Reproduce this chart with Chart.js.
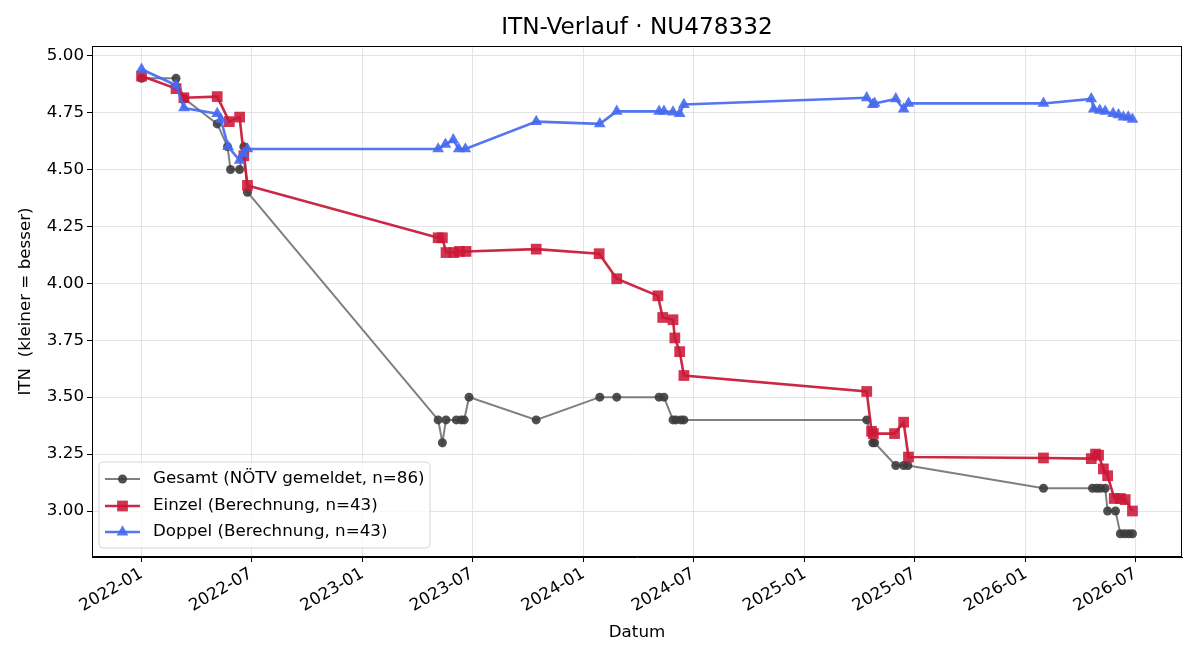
<!DOCTYPE html>
<html><head><meta charset="utf-8">
<script src="https://cdn.jsdelivr.net/npm/chart.js@4.4.1/dist/chart.umd.min.js"></script>
<style>html,body{margin:0;padding:0;background:#fff}#wrap{width:1200px;height:660px}</style>
</head><body><div id="wrap"><canvas id="c" width="1200" height="660"></canvas></div>
<script>
const chartTitle = 'ITN-Verlauf · NU478332';
const xAxisTitle = 'Datum';
const yAxisTitle = 'ITN  (kleiner = besser)';
const seriesLabels = ['Gesamt (NÖTV gemeldet, n=86)', 'Einzel (Berechnung, n=43)', 'Doppel (Berechnung, n=43)'];

const gesamtDates = ['2022-01-01','2022-02-27','2022-03-13','2022-05-06','2022-05-23','2022-05-28','2022-06-12','2022-06-19','2022-06-25',
  '2023-05-06','2023-05-13','2023-05-19','2023-06-05','2023-06-13','2023-06-18','2023-06-26','2023-10-15',
  '2024-01-28','2024-02-25','2024-05-05','2024-05-13','2024-05-28','2024-06-02','2024-06-10','2024-06-15',
  '2025-04-13','2025-04-23','2025-04-26','2025-05-31','2025-06-13','2025-06-20',
  '2026-01-30','2026-04-21','2026-04-28','2026-05-04','2026-05-12','2026-05-16','2026-05-29','2026-06-06','2026-06-13','2026-06-20','2026-06-26'];
const gesamtValues = [4.90,4.90,4.81,4.70,4.60,4.50,4.50,4.60,4.40,
  3.40,3.30,3.40,3.40,3.40,3.40,3.50,3.40,
  3.50,3.50,3.50,3.50,3.40,3.40,3.40,3.40,
  3.40,3.30,3.30,3.20,3.20,3.20,
  3.10,3.10,3.10,3.10,3.10,3.00,3.00,2.90,2.90,2.90,2.90];

const einzelDates = ['2022-01-01','2022-02-27','2022-03-12','2022-05-06','2022-05-26','2022-06-12','2022-06-19','2022-06-25',
  '2023-05-06','2023-05-13','2023-05-19','2023-06-01','2023-06-10','2023-06-21','2023-10-15',
  '2024-01-27','2024-02-25','2024-05-03','2024-05-11','2024-05-28','2024-05-31','2024-06-08','2024-06-15',
  '2025-04-13','2025-04-21','2025-04-24','2025-05-29','2025-06-13','2025-06-21',
  '2026-01-30','2026-04-19','2026-04-26','2026-05-01','2026-05-09','2026-05-16','2026-05-27','2026-06-06','2026-06-14','2026-06-26'];
const einzelValues = [4.91,4.855,4.815,4.82,4.71,4.73,4.56,4.43,
  4.20,4.20,4.135,4.135,4.14,4.14,4.15,
  4.13,4.02,3.945,3.85,3.84,3.76,3.70,3.595,
  3.525,3.35,3.34,3.34,3.39,3.237,
  3.233,3.23,3.25,3.245,3.185,3.155,3.055,3.055,3.05,3.00];

const doppelDates = ['2022-01-01','2022-02-27','2022-03-12','2022-05-06','2022-05-12','2022-05-24','2022-06-12','2022-06-18','2022-06-25',
  '2023-05-06','2023-05-18','2023-05-31','2023-06-09','2023-06-20','2023-10-15',
  '2024-01-28','2024-02-25','2024-05-05','2024-05-13','2024-05-28','2024-06-08','2024-06-15',
  '2025-04-13','2025-04-23','2025-04-26','2025-05-31','2025-06-13','2025-06-21',
  '2026-01-30','2026-04-19','2026-04-23','2026-05-03','2026-05-12','2026-05-25','2026-06-03','2026-06-11','2026-06-19','2026-06-26'];
const doppelValues = [4.94,4.87,4.77,4.745,4.72,4.60,4.54,4.57,4.59,
  4.59,4.61,4.63,4.59,4.59,4.71,
  4.70,4.755,4.755,4.755,4.752,4.745,4.785,
  4.815,4.785,4.79,4.81,4.765,4.79,
  4.79,4.81,4.765,4.76,4.755,4.745,4.74,4.73,4.73,4.72];

const xTickLabels = ['2022-01','2022-07','2023-01','2023-07','2024-01','2024-07','2025-01','2025-07','2026-01','2026-07'];
const yTickValues = [3.00,3.25,3.50,3.75,4.00,4.25,4.50,4.75,5.00];

const colors = {
  gesamtLine: 'rgba(120,120,120,0.95)', gesamtPoint: 'rgba(60,60,60,0.9)',
  einzel: 'rgba(200,22,52,0.92)', einzelPoint: 'rgba(204,24,56,0.88)',
  doppel: 'rgba(70,105,240,0.92)', doppelPoint: 'rgba(70,105,240,0.9)'
};

function toMs(s){ const p = s.split('-').map(Number); return Date.UTC(p[0], p[1]-1, p[2] || 1); }
function pts(dates, vals){ return dates.map((d,i)=>({x: toMs(d), y: vals[i]})); }

const allX = [].concat(gesamtDates, einzelDates, doppelDates).map(toMs);
const allY = [].concat(gesamtValues, einzelValues, doppelValues);
const xMinD = Math.min(...allX), xMaxD = Math.max(...allX);
const yMinD = Math.min(...allY), yMaxD = Math.max(...allY);
const xPad = (xMaxD - xMinD) * 0.05, yPad = (yMaxD - yMinD) * 0.05;

const FONT = 'DejaVu Sans';
const FS = 16.7;

const legendPlugin = {
  id: 'mplLegend',
  afterDraw(chart) {
    const ctx = chart.ctx;
    const ca = chart.chartArea;
    ctx.save();
    ctx.strokeStyle = '#000'; ctx.lineWidth = 1;
    ctx.strokeRect(Math.round(ca.left)+0.5, Math.round(ca.top)+0.5, Math.round(ca.right-ca.left)-1, Math.round(ca.bottom-ca.top)-1);
    const bx = 99, by = 462, bw = 331, bh = 86, r = 4;
    ctx.beginPath();
    ctx.moveTo(bx+r, by); ctx.lineTo(bx+bw-r, by); ctx.quadraticCurveTo(bx+bw, by, bx+bw, by+r);
    ctx.lineTo(bx+bw, by+bh-r); ctx.quadraticCurveTo(bx+bw, by+bh, bx+bw-r, by+bh);
    ctx.lineTo(bx+r, by+bh); ctx.quadraticCurveTo(bx, by+bh, bx, by+bh-r);
    ctx.lineTo(bx, by+r); ctx.quadraticCurveTo(bx, by, bx+r, by);
    ctx.closePath();
    ctx.fillStyle = 'rgba(255,255,255,0.8)'; ctx.fill();
    ctx.strokeStyle = '#d6d6d6'; ctx.lineWidth = 1; ctx.stroke();
    const rows = [479, 506, 532];
    chart.data.datasets.forEach((ds, i) => {
      const y = rows[i];
      ctx.beginPath(); ctx.moveTo(105, y); ctx.lineTo(140, y);
      ctx.strokeStyle = ds.borderColor; ctx.lineWidth = ds.borderWidth; ctx.stroke();
      ctx.fillStyle = ds.pointBackgroundColor;
      ctx.beginPath();
      const cx = 122.5;
      if (ds.pointStyle === 'circle') { ctx.arc(cx, y, ds.pointRadius, 0, Math.PI*2); }
      else if (ds.pointStyle === 'rect') { const s = ds.pointRadius*Math.SQRT1_2; ctx.rect(cx-s, y-s, 2*s, 2*s); }
      else { const rr = ds.pointRadius; for (let k=0;k<3;k++){ const a = k*2*Math.PI/3; const px = cx+Math.sin(a)*rr, py = y-Math.cos(a)*rr; k?ctx.lineTo(px,py):ctx.moveTo(px,py);} ctx.closePath(); }
      ctx.fill();
      ctx.fillStyle = '#000'; ctx.font = FS + 'px "' + FONT + '"'; ctx.textBaseline = 'middle'; ctx.textAlign = 'left';
      ctx.fillText(ds.label, 153, y);
    });
    ctx.restore();
  }
};

new Chart(document.getElementById('c'), {
  type: 'line',
  data: {
    datasets: [
      { label: seriesLabels[0], data: pts(gesamtDates, gesamtValues), borderColor: colors.gesamtLine, borderWidth: 2,
        pointStyle: 'circle', pointRadius: 4.5, pointBackgroundColor: colors.gesamtPoint, pointBorderWidth: 0, order: 3 },
      { label: seriesLabels[1], data: pts(einzelDates, einzelValues), borderColor: colors.einzel, borderWidth: 2.6,
        pointStyle: 'rect', pointRadius: 7.6, pointBackgroundColor: colors.einzelPoint, pointBorderWidth: 0, order: 2 },
      { label: seriesLabels[2], data: pts(doppelDates, doppelValues), borderColor: colors.doppel, borderWidth: 2.6,
        pointStyle: 'triangle', pointRadius: 6.8, pointBackgroundColor: colors.doppelPoint, pointBorderWidth: 0, order: 1 }
    ]
  },
  options: {
    responsive: false, animation: false, devicePixelRatio: 1,
    layout: { padding: { left: 0, right: 18, top: 0, bottom: 0 } },
    elements: { line: { tension: 0, fill: false } },
    plugins: {
      legend: { display: false }, tooltip: { enabled: false },
      title: { display: true, fullSize: false, text: chartTitle, color: '#000', font: { family: FONT, size: 23.2, weight: 'normal', lineHeight: 1.2 }, padding: { top: 14.1, bottom: 4.1 } }
    },
    scales: {
      x: {
        type: 'linear', min: xMinD - xPad, max: xMaxD + xPad,
        afterFit(s) { s.height = 103; },
        afterBuildTicks(s) { s.ticks = xTickLabels.map(l => ({ value: toMs(l) })); },
        ticks: {
          color: '#000', font: { family: FONT, size: FS }, minRotation: 30, maxRotation: 30, padding: 2, autoSkip: false,
          callback(v) { const d = new Date(v); return d.getUTCFullYear() + '-' + String(d.getUTCMonth()+1).padStart(2,'0'); }
        },
        grid: { color: '#e4e4e4', lineWidth: 1, tickColor: '#000', tickLength: 5, drawTicks: true },
        border: { color: '#000', width: 1 },
        title: { display: true, text: xAxisTitle, color: '#000', font: { family: FONT, size: FS }, padding: { top: 0, bottom: 17 } }
      },
      y: {
        type: 'linear', min: yMinD - yPad, max: yMaxD + yPad,
        afterFit(s) { s.width = 92; },
        afterBuildTicks(s) { s.ticks = yTickValues.map(v => ({ value: v })); },
        ticks: { color: '#000', font: { family: FONT, size: FS }, padding: 3, callback(v) { return Number(v).toFixed(2); } },
        grid: { color: '#e4e4e4', lineWidth: 1, tickColor: '#000', tickLength: 5, drawTicks: true },
        border: { color: '#000', width: 1 },
        title: { display: true, text: yAxisTitle, color: '#000', font: { family: FONT, size: FS }, padding: { top: 15.5, bottom: 0 } }
      }
    }
  },
  plugins: [legendPlugin]
});
</script></body></html>
